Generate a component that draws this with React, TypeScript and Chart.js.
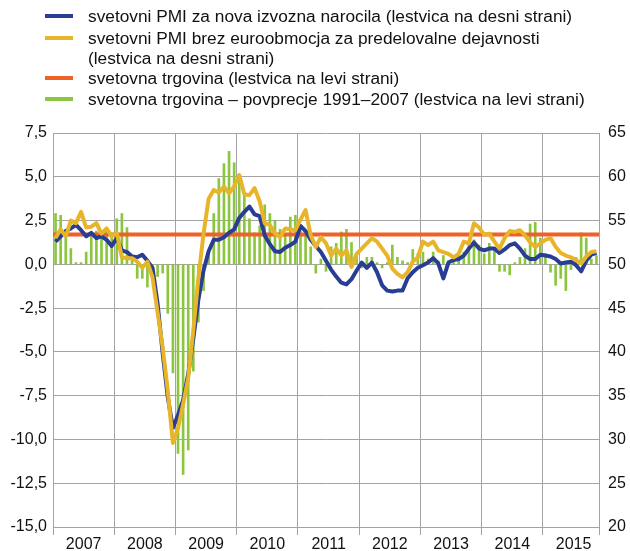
import React, { useEffect, useRef } from 'react';
import { Chart, registerables } from 'chart.js';

Chart.register(...registerables);

// ---------- data ----------
const years = ['2007', '2008', '2009', '2010', '2011', '2012', '2013', '2014', '2015'];
const monthsInLastYear = 11;

// svetovna trgovina (monthly, left axis, bars)
const worldTrade = [
  2.9, 2.8, 2.0, 0.9, 0.1, 0.1, 0.7, 1.7, 1.9, 1.8, 2.0, 1.6,
  2.6, 2.9, 2.1, 0.3, -0.8, -0.8, -1.3, -0.2, -0.7, -0.5, -2.8, -6.2,
  -10.8, -12.0, -10.6, -6.1, -3.3, -1.5, 0.7, 2.9, 4.9, 5.75, 6.45, 5.8,
  4.8, 3.9, 2.6, 1.8, 2.2, 3.4, 2.9, 2.5, 2.0, 1.6, 2.7, 2.8,
  1.9, 1.9, 1.0, -0.5, 0.3, -0.4, 1.0, 1.2, 1.85, 2.0, 1.25, 0.5,
  -0.2, 0.4, 0.4, 0.1, -0.2, 0.1, 1.1, 0.4, 0.2, 0.1, 0.85, 0.6,
  0.7, 0.3, 0.7, 0.2, 0.5, 0.2, 0.3, 0.5, 0.7, 1.1, 1.4, 1.1,
  0.6, 1.2, 0.8, -0.4, -0.4, -0.6, 0.1, 0.4, 0.9, 2.3, 2.4, 1.5,
  0.6, -0.45, -1.2, -0.8, -1.5, -0.3, 0.4, 1.8, 1.5, 0.3, 0.5,
];

// svetovna trgovina – povprecje 1991–2007 (left axis)
const worldTradeAverage = 1.7;

// svetovni PMI za nova izvozna narocila (right axis)
const pmiExportOrders = [
  52.6, 53.2, 53.8, 54.1, 54.5, 53.9, 53.2, 53.6, 53.0, 53.2, 52.8, 52.1,
  53.0, 51.6, 51.4, 50.9, 50.8, 51.1, 50.4, 49.6, 45.5, 39.8, 34.8, 31.3,
  32.8, 34.5, 37.5, 41.5, 46.0, 49.3, 51.5, 52.8, 52.8, 53.1, 53.6, 54.0,
  55.3, 56.0, 56.6, 55.7, 55.5, 53.3, 52.3, 51.5, 51.4, 51.9, 52.2, 52.6,
  54.4, 53.8, 52.8, 52.1, 51.4, 50.4, 49.4, 48.6, 47.9, 47.7, 48.3, 49.3,
  50.2, 49.6, 50.2, 49.1, 47.6, 47.0, 46.9, 47.0, 47.0, 48.4, 49.1, 49.6,
  49.9, 50.2, 50.7, 50.1, 48.4, 50.2, 50.5, 50.6, 51.0, 51.8, 52.5, 51.8,
  51.6, 51.8, 51.8, 51.3, 51.7, 52.2, 52.4, 51.8, 51.0, 50.6, 50.6, 51.1,
  51.0, 50.9, 50.6, 50.1, 50.2, 50.3, 49.9, 49.2, 50.4, 51.1, 51.3,
];

// svetovni PMI brez euroobmocja za predelovalne dejavnosti (right axis)
const pmiManufacturingExEA = [
  53.0, 54.0, 53.2, 55.0, 54.7, 56.0, 54.2, 54.3, 54.7, 53.5, 54.1, 53.2,
  53.6, 50.8, 50.7, 50.7, 50.3, 49.6, 50.3, 48.5, 44.5, 40.5, 35.5, 29.6,
  31.3, 34.0, 37.0, 42.5, 48.5, 53.5, 57.5, 58.5, 58.2, 58.9, 58.1, 58.9,
  60.2, 58.0, 57.9, 58.7, 57.2, 54.7, 54.5, 53.5, 53.1, 54.1, 54.0, 53.9,
  55.1, 56.2, 53.3, 52.0, 53.1, 52.4, 51.0, 51.8, 51.0, 51.6, 49.7, 51.2,
  51.8, 52.4, 53.0, 52.6, 51.8, 51.0, 49.5, 48.9, 48.5, 49.1, 50.3, 50.8,
  52.6, 52.2, 52.6, 51.6, 51.4, 51.2, 50.8, 51.2, 52.6, 52.4, 54.7, 54.2,
  53.4, 53.5, 52.6, 51.8, 53.0, 53.8, 53.7, 53.9, 53.3, 52.5, 52.0, 52.4,
  52.8, 53.0, 52.0, 51.3, 51.0, 50.8, 50.5, 50.1, 50.9, 51.4, 51.5,
];

const COLOR_EXPORT = '#283d93';
const COLOR_MANUF = '#e8b52a';
const COLOR_AVG = '#ee6127';
const COLOR_TRADE = '#8cc63f';

const legendItems = [
  { color: COLOR_EXPORT, lines: ['svetovni PMI za nova izvozna narocila (lestvica na desni strani)'] },
  { color: COLOR_MANUF, lines: ['svetovni PMI brez euroobmocja za predelovalne dejavnosti', '(lestvica na desni strani)'] },
  { color: COLOR_AVG, lines: ['svetovna trgovina (lestvica na levi strani)'] },
  { color: COLOR_TRADE, lines: ['svetovna trgovina – povprecje 1991–2007 (lestvica na levi strani)'] },
];

// month labels built from the years
const monthLabels: string[] = [];
years.forEach((y, yi) => {
  const n = yi === years.length - 1 ? monthsInLastYear : 12;
  for (let m = 1; m <= n; m++) monthLabels.push(`${y}-${String(m).padStart(2, '0')}`);
});

const FONT = "'Liberation Sans', Arial, Helvetica, sans-serif";
const GRID = '#a3a3a3';

// draws the long-run average as a full-width horizontal line, right after the bars
const averageLinePlugin = {
  id: 'averageLine',
  afterDatasetDraw(chart: any, args: any) {
    if (chart.data.datasets[args.index].label !== 'worldTrade') return;
    const { ctx, chartArea, scales } = chart;
    const y = scales.y.getPixelForValue(worldTradeAverage);
    ctx.save();
    ctx.strokeStyle = COLOR_AVG;
    ctx.lineWidth = 4;
    ctx.beginPath();
    ctx.moveTo(chartArea.left, y);
    ctx.lineTo(chartArea.right, y);
    ctx.stroke();
    ctx.restore();
  },
};

export default function App() {
  const ref = useRef<HTMLCanvasElement | null>(null);

  useEffect(() => {
    if (!ref.current) return;
    Chart.defaults.font.family = FONT;
    const chart = new Chart(ref.current, {
      type: 'bar',
      data: {
        labels: monthLabels,
        datasets: [
          {
            type: 'line',
            label: 'pmiManufacturingExEA',
            data: pmiManufacturingExEA,
            yAxisID: 'y2',
            borderColor: COLOR_MANUF,
            borderWidth: 4,
            pointRadius: 0,
            tension: 0,
            borderJoinStyle: 'round',
            order: 1,
          } as any,
          {
            type: 'line',
            label: 'pmiExportOrders',
            data: pmiExportOrders,
            yAxisID: 'y2',
            borderColor: COLOR_EXPORT,
            borderWidth: 4,
            pointRadius: 0,
            tension: 0,
            borderJoinStyle: 'round',
            order: 2,
          } as any,
          {
            type: 'bar',
            label: 'worldTrade',
            data: worldTrade,
            yAxisID: 'y',
            backgroundColor: COLOR_TRADE,
            barThickness: 2,
            order: 4,
          } as any,
        ],
      },
      options: {
        responsive: false,
        animation: false,
        layout: { padding: { top: 133, left: 0, right: 0, bottom: 0 } },
        plugins: { legend: { display: false }, tooltip: { enabled: false } },
        scales: {
          x: {
            type: 'category',
            offset: true,
            grid: {
              offset: true,
              drawTicks: true,
              tickLength: 8,
              lineWidth: 1,
              color: (ctx: any) =>
                ctx.index === undefined || ctx.index % 12 === 0 ? GRID : 'rgba(0,0,0,0)',
            },
            border: { display: true, color: GRID },
            ticks: {
              autoSkip: false,
              maxRotation: 0,
              minRotation: 0,
              padding: 0,
              labelOffset: -2.5,
              color: '#111',
              font: { size: 16, family: FONT },
              callback: (_v: any, i: number) => {
                const lab = monthLabels[i];
                return lab && lab.endsWith('-07') ? lab.slice(0, 4) : '';
              },
            },
            afterFit: (s: any) => {
              s.height = 24;
            },
          },
          y: {
            position: 'left',
            min: -15,
            max: 7.5,
            grid: { color: GRID, drawTicks: false, lineWidth: 1 },
            border: { display: true, color: GRID },
            ticks: {
              stepSize: 2.5,
              padding: 6,
              color: '#111',
              font: { size: 16, family: FONT },
              callback: (v: any) => Number(v).toFixed(1).replace('.', ','),
            },
            afterFit: (s: any) => {
              s.width = 53;
            },
          },
          y2: {
            position: 'right',
            min: 20,
            max: 65,
            grid: { display: false, drawTicks: false },
            border: { display: true, color: GRID },
            ticks: {
              stepSize: 5,
              padding: 9,
              color: '#111',
              font: { size: 16, family: FONT },
            },
            afterFit: (s: any) => {
              s.width = 31;
            },
          },
        },
      } as any,
      plugins: [averageLinePlugin],
    });
    return () => chart.destroy();
  }, []);

  const rowTops = [[16], [38, 57.5], [78], [99]];

  return (
    <div
      style={{
        position: 'fixed',
        left: 0,
        top: 0,
        width: 630,
        height: 551,
        background: '#fff',
        fontFamily: FONT,
      }}
    >
      <canvas ref={ref} width={630} height={551} style={{ display: 'block', position: 'absolute', left: 0, top: 0 }} />
      {legendItems.map((item, i) => (
        <React.Fragment key={i}>
          <div
            style={{
              position: 'absolute',
              left: 45,
              top: rowTops[i][0] - 2,
              width: 28,
              height: 4,
              background: item.color,
            }}
          />
          {item.lines.map((t, j) => (
            <div
              key={j}
              style={{
                position: 'absolute',
                left: 88,
                top: rowTops[i][j] - 10,
                height: 20,
                lineHeight: '20px',
                fontSize: 17.3,
                color: '#111',
                whiteSpace: 'nowrap',
              }}
            >
              {t}
            </div>
          ))}
        </React.Fragment>
      ))}
    </div>
  );
}
